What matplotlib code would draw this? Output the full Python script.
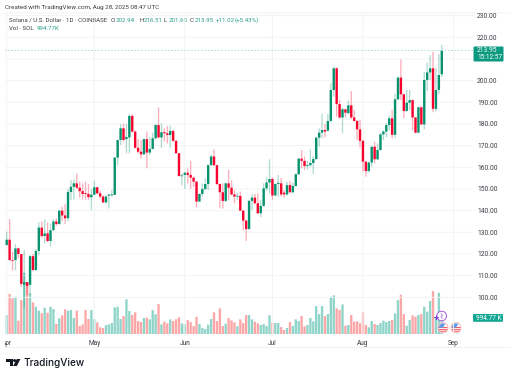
import matplotlib
matplotlib.use('Agg')
import matplotlib.pyplot as plt
import matplotlib.dates as mdates
from matplotlib.patches import Circle, Polygon, Rectangle, FancyBboxPatch, Wedge
from matplotlib.transforms import Bbox
import pandas as pd

plt.rcParams['font.family'] = ['Roboto', 'DejaVu Sans']
plt.rcParams['path.snap'] = False

# daily candles, Apr 1 .. Aug 28 2025
opens = [124.2,126.6,117.2,117.2,122.6,120,105.8,107,105.8,119,
         112.6,121.4,132.2,128.3,129.5,126,131,135,133.8,140,
         137.8,136.5,148.6,151,152.6,150.6,149,147.9,147.7,146.2,
         147.4,150.8,148,146.5,143.8,146.9,147.1,147.3,164.5,172.6,
         178,173,173.8,183.7,176.5,169,167.2,166,173,166.8,
         168.5,173.4,179.5,173.8,176.2,175.7,174.9,176.8,172.2,166.5,
         155.9,156.5,157.5,156.5,155.2,153.4,144.2,147.7,150,152.3,
         161,165,161,152.3,148.5,144.5,152.6,150.6,147.5,146.5,
         146.8,140,135.4,131.5,144.5,146,143.4,138.8,142.2,150.3,
         153,154.6,147,152.3,152.6,148.3,147.5,151.8,148.5,151.4,
         156.8,164,163,160.6,161,162,163.8,173.7,176,177.2,
         176.9,181.4,195.7,205.7,189.2,183,186.8,185,188.6,183,
         181.4,177.5,172.2,162.6,158.3,162.2,169.5,163.7,168,175.2,
         176.5,179.5,182.6,175,191.4,201.4,193.7,186,189.8,191,
         183,176,187.7,179.8,200.3,203.8,205.7,187,195.7,202.94]
highs = [130.3,136.2,121,124.5,123,120,122,107.2,119.5,120,
         122.3,134.6,135,136,134.6,134,136,136.5,140.4,141.8,
         143,150,154.1,154.5,157.2,153.4,152.6,153.4,152.3,150,
         153.8,151,149.2,147.2,147.2,147.7,149.5,164.7,172.8,180,
         180.3,180,184.6,184.6,177,173,172.6,173.4,176.5,174,
         176,180,187.7,180.3,178,179,179.2,177.2,172.6,166.5,
         157.2,158,159.5,163,155.7,153.8,148,152.6,155,161.4,
         165.7,168.3,161,152.6,152.6,153,158.8,154,149.5,148.3,
         148.8,140.2,135.6,145,147.7,147.7,148,145,152.6,155.4,
         163.7,155.4,152.6,156.5,155,149.5,153.4,153.7,153,157.2,
         164.5,168,165,163,168.3,165,174,178,184.6,180,
         184.6,198.8,206.5,206,191,187.5,187,190.8,195.2,186.5,
         181.8,182,172.6,162.8,162.6,169.8,171.8,171,176,177.2,
         180.3,184,186.5,194,201.8,209.8,194,195.7,195.7,191.4,
         183.2,188,188,204,208.3,211.8,213.4,205.7,212.3,216.51]
lows = [123.8,117,112.4,112.6,118,104.9,95,101,101,112.3,
        112.3,119.5,127.5,125,125.4,123.4,130.6,133,133.7,135.2,
        133.8,135,145,145.2,150,146,145.2,145,145,140.3,
        147.2,147.7,145.7,143.7,143.4,141,146.5,147.2,161,170.3,
        171.8,166.5,166.5,176,168.8,166.5,164,165.7,159.5,165.7,
        168.3,173,173.4,169,172,171,169,172,166.2,155.7,
        151.7,150,152.5,150,151,141.5,144,146.5,149.5,149.5,
        160.8,160.6,151.8,141,141,144,145,147,143.4,145,
        139.8,131,126,131.4,140.3,143,138.5,137,141.8,149.2,
        148,145,146.8,146.5,146.5,146,147,148,148,151,
        156.5,159.5,158.8,159,160.3,157,163.6,169.5,173.4,173.8,
        176.5,181,192.6,183.4,182.5,175.7,183,184.6,182.2,181,
        172.6,169.2,158,155.7,157.5,160.3,161.8,163.4,167.7,172.6,
        174,177,173.4,173.4,191,191,182.6,185.7,186.5,177,
        175.7,175.7,179.5,177.5,195.2,200.3,185.4,185.7,193.8,201.65]
closes = [126.6,117.2,116.9,122.6,120,106.2,107,105.3,119,112.6,
          121.4,132.2,128.3,129.5,126,131,135,133.8,140,137.8,
          136.5,148.6,151,152.6,150.6,149,147.7,147.7,146.2,147.4,
          150.8,148,146.5,143.8,146.5,147.4,147.5,164.5,172.6,178,
          172.6,174,183.7,176.5,169,167.2,166,173,166.8,168.5,
          173.4,179.5,173.8,176.2,175.7,174.9,176.8,172.2,166.5,156,
          156.2,157.5,156.5,155.2,153.4,144.2,147.7,150,152.3,161,
          165,161,152.3,148.5,144.5,152.6,150.6,147.5,146.5,146.8,
          140,135.4,131.5,144.5,146,143.4,138.8,142.2,150.3,153,
          154.6,147,152.3,152.8,147.5,147.5,151.8,148.5,151.4,156.8,
          164,163,160.6,161,162,163.8,173.7,176,177.2,176.5,
          181.4,195.7,205.7,189.2,183,186.8,185.2,188.6,183,181.4,
          177.5,172.2,162.6,158.3,162.2,169.5,163.7,168,175.2,176.5,
          179.5,182.6,175,191.4,201.4,193.7,186,189.8,191,183,
          176,187.7,179.8,200.3,203.8,205.7,187,195.7,202.6,213.95]
# volume in thousands of SOL
volumes = [1180,2484,2215,2318,828,2111,3809,3208,2525,1967,
           1697,1449,1283,1635,1325,1697,1552,621,973,1159,
           1532,1449,1490,994,1449,497,600,1490,931,1490,
           911,724,414,373,559,600,683,1656,1697,931,
           1118,2153,1428,1180,1345,807,745,994,1014,911,
           1490,1221,1863,600,766,662,911,807,911,1035,
           662,600,869,745,497,1076,621,373,310,580,
           931,1345,807,1594,497,642,994,849,724,476,
           911,683,1180,1180,911,766,662,559,621,497,
           1159,683,683,683,435,248,373,745,497,911,
           807,1118,476,559,994,787,1739,1242,1739,1118,
           1242,2318,2401,1594,1490,1842,518,559,1180,766,
           787,662,1345,559,414,807,621,559,683,828,
           745,807,869,1283,2111,2443,1242,518,869,1159,
           1076,1180,1242,1697,1387,2049,2670,1076,2567,994.77]

dates = pd.date_range('2025-04-01', periods=len(opens), freq='D')
month_ticks = pd.to_datetime(['2025-04-01', '2025-05-01', '2025-06-01', '2025-07-01', '2025-08-01', '2025-09-01'])
month_labels = ['Apr', 'May', 'Jun', 'Jul', 'Aug', 'Sep']
price_ticks = [100, 110, 120, 130, 140, 150, 160, 170, 180, 190, 200, 210, 220, 230]
last_price = 213.95

up = '#07926F'
down = '#F5052E'
up_vol = '#8FD4C9'
down_vol = '#FCA7A7'
grid = '#F3F3F3'
text_c = '#3A3D45'
val_c = '#2A9D86'

W, H = 512, 377
fig = plt.figure(figsize=(W / 100, H / 100), dpi=100, facecolor='white')

# price pane, pixel box x 4.5..473, y 13..336
ax = fig.add_axes([4.5 / W, 1 - 336 / H, 468.5 / W, 323 / H])
x = mdates.date2num(dates)
x0 = x[0]
ax.set_xlim(x0 + (4.5 - 6.7) / 2.92, x0 + (473 - 6.7) / 2.92)
ax.set_ylim(220 - (336 - 37.3) / 2.167, 220 + (37.3 - 13) / 2.167)

# volume pane on the same x
vol_ax = ax.twinx()
vol_per_px = 994.77 / 16
vol_ax.set_ylim(-2 * vol_per_px, (334 - 13) * vol_per_px)
vol_ax.set_yticks([])
for s in vol_ax.spines.values():
    s.set_visible(False)
vol_ax.patch.set_alpha(0)
ax.set_zorder(vol_ax.get_zorder() + 1)

ax.set_yticks(price_ticks)
# the 210 label sits under the last price tag
ax.set_yticklabels(['' if p == 210 else '%.2f' % p for p in price_ticks], fontsize=4.9, color=text_c)
ax.yaxis.tick_right()
ax.set_xticks(mdates.date2num(month_ticks))
ax.set_xticklabels(month_labels, fontsize=4.7, color=text_c)
ax.tick_params(length=0, pad=3)
ax.tick_params(axis='x', pad=3.2)
ax.grid(True, color=grid, lw=0.7)
ax.set_axisbelow(True)
for s in ax.spines.values():
    s.set_visible(False)
ax.patch.set_alpha(0)

# Apr label is cut by the left edge of the pane
ax.get_xticklabels()[0].set_clip_box(Bbox([[4.5, 0], [W, H]]))
ax.get_xticklabels()[0].set_clip_on(True)

for i in range(len(x)):
    rising = closes[i] >= opens[i]
    vol_ax.bar(x[i], volumes[i], width=0.8, color=up_vol if rising else down_vol, lw=0)
    c = up if rising else down
    ax.vlines(x[i], lows[i], highs[i], color=c, lw=0.95, alpha=0.32)
    ax.bar(x[i], max(abs(closes[i] - opens[i]), 0.35), bottom=min(opens[i], closes[i]),
           width=0.82, color=c, lw=0)

ax.axhline(last_price, color='#A8DCD2', lw=0.6, ls=(0, (2, 2)))

# overlay in pixels for legend, labels, logo and icons
ov = fig.add_axes([0, 0, 1, 1])
ov.set_xlim(0, W)
ov.set_ylim(H, 0)
ov.axis('off')
ov.patch.set_alpha(0)

ov.plot([4.5, 510], [13, 13], color='#EFEFEF', lw=0.6)
ov.plot([4.5, 510], [347.5, 347.5], color='#EFEFEF', lw=0.6)

ov.text(5, 7.5, 'Created with TradingView.com, Aug 28, 2025 08:47 UTC', fontsize=4.5, color=text_c, va='center')
ov.text(9, 20.3, 'Solana / U.S. Dollar \u00b7 1D \u00b7 COINBASE', fontsize=4.4, color=text_c, va='center')
for px, lab, val in [(111, 'O', '202.94'), (139, 'H', '216.51'), (164, 'L', '201.65'), (190, 'C', '213.95')]:
    ov.text(px, 20.3, lab, fontsize=4.4, color=text_c, va='center')
    ov.text(px + 4.8, 20.3, val, fontsize=4.4, color=val_c, va='center')
ov.text(216, 20.3, '+11.02', fontsize=4.4, color=val_c, va='center')
ov.text(235, 20.3, '(+5.43%)', fontsize=4.4, color=val_c, va='center')
ov.text(9, 29, 'Vol \u00b7 SOL', fontsize=4.4, color=text_c, va='center')
ov.text(37, 29, '994.77K', fontsize=4.4, color=val_c, va='center')

# last price and volume tags
ov.add_patch(FancyBboxPatch((473.5, 46.5), 30, 15, boxstyle='round,pad=0,rounding_size=1', fc='#0B9A80', ec='none'))
ov.text(477, 50.2, '213.95', fontsize=4.9, color='white', va='center')
ov.text(477, 57.5, '15:12:57', fontsize=4.7, color='white', va='center')
ov.add_patch(FancyBboxPatch((473, 314), 30, 7.8, boxstyle='round,pad=0,rounding_size=1', fc='#12A793', ec='none'))
ov.text(476.5, 318, '994.77 K', fontsize=4.7, color='white', va='center')

# event icons
ov.add_patch(Circle((441.7, 316), 4.8, fc='white', ec='#A45BD6', lw=0.7))
ov.plot([441.0, 442.8, 440.8, 442.6], [313.2, 315.8, 316.2, 318.8], color='#B88CDD', lw=0.6)
ov.plot([434.6, 438.4], [317.6, 317.6], color='#7A2FE0', lw=0.7)
ov.plot([436.5, 436.5], [315.7, 319.5], color='#7A2FE0', lw=0.7)
for cx in [443, 456]:
    c = Circle((cx, 327.7), 5, fc='white', ec='#F7B7B7', lw=0.7)
    ov.add_patch(c)
    for dy in [-0.6, 1.2, 3.0]:
        ov.add_patch(Rectangle((cx - 4.4, 327.7 + dy), 8.8, 0.9, fc='#EE4A55', ec='none', clip_path=c))
    ov.add_patch(Wedge((cx, 327.7), 4.3, 180, 300, fc='#5B9BE8', ec='none'))

# logo
ov.add_patch(Polygon([(6, 359), (13, 359), (13, 366), (10, 366), (10, 362), (6, 362)], fc='#131722', ec='none'))
ov.add_patch(Circle((14.6, 360.6), 1.5, fc='#131722', ec='none'))
ov.add_patch(Polygon([(16.8, 359), (20.4, 359), (16.8, 366), (13.2, 366)], fc='#131722', ec='none'))
ov.text(24, 362.6, 'TradingView', fontsize=7.2, color='#131722', va='center', family='Inter', weight='medium')

fig.savefig('out.png', dpi=100, facecolor='white')
